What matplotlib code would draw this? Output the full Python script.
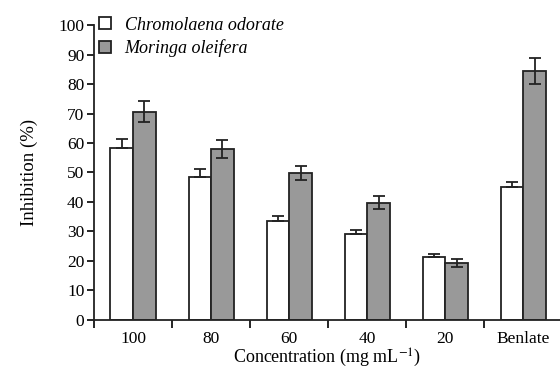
import matplotlib.pyplot as plt
import numpy as np

plt.rcParams['font.family'] = ['Liberation Serif', 'DejaVu Serif']
plt.rcParams['mathtext.fontset'] = 'stix'

# 데이터
concentrations = ['100', '80', '60', '40', '20', 'Benlate']
chromolaena = [58.4, 48.6, 33.6, 29.2, 21.5, 45.0]
chromolaena_err = [3.0, 2.5, 1.6, 1.3, 0.9, 1.8]
moringa = [70.6, 57.9, 49.9, 39.8, 19.4, 84.4]
moringa_err = [3.6, 3.0, 2.4, 2.1, 1.4, 4.5]

fig = plt.figure(figsize=(5.6, 3.71), dpi=100)
ax = fig.add_axes([0.168, 0.1375, 0.832, 0.7951])

x = np.arange(len(concentrations))
w = 0.29
edge = '#222222'

ax.bar(x - w / 2, chromolaena, w, color='white', edgecolor=edge, linewidth=1.3,
       label='Chromolaena odorate', zorder=2)
ax.errorbar(x - w / 2, chromolaena, yerr=[np.zeros(len(x)), chromolaena_err],
            fmt='none', ecolor=edge, elinewidth=1.3, capsize=4.3, capthick=1.3, zorder=3)
ax.bar(x + w / 2, moringa, w, color='#999999', edgecolor=edge, linewidth=1.3,
       label='Moringa oleifera', zorder=2)
ax.errorbar(x + w / 2, moringa, yerr=moringa_err,
            fmt='none', ecolor=edge, elinewidth=1.3, capsize=4.3, capthick=1.3, zorder=3)

ax.set_xlim(-0.5, 5.47)
ax.set_ylim(0, 100)
ax.set_yticks(range(0, 101, 10))
ax.set_xticks(np.append(-0.5, x[:-1] + 0.5))
ax.set_xticklabels([])
ax.set_xticks(x, minor=True)
ax.set_xticklabels(concentrations, minor=True)
ax.tick_params(axis='x', which='minor', length=0, labelsize=12.5, pad=8)
ax.tick_params(axis='x', which='major', length=6, width=1.2, direction='out')
ax.tick_params(axis='y', length=5, width=1.2, labelsize=12.5, pad=2)

for s in ['top', 'right']:
    ax.spines[s].set_visible(False)
for s in ['left', 'bottom']:
    ax.spines[s].set_linewidth(1.3)
    ax.spines[s].set_color(edge)

ax.set_ylabel('Inhibition (%)', fontsize=13.5, labelpad=15)
ax.set_xlabel('Concentration (mg mL$^{-1}$)', fontsize=13, labelpad=0)

leg = ax.legend(loc='upper left', bbox_to_anchor=(-0.012, 1.065), frameon=False,
                prop={'style': 'italic', 'size': 13}, handlelength=0.65,
                handleheight=0.65, handletextpad=0.75, labelspacing=0.3,
                borderaxespad=0.2)

fig.savefig('out.png', dpi=100)
